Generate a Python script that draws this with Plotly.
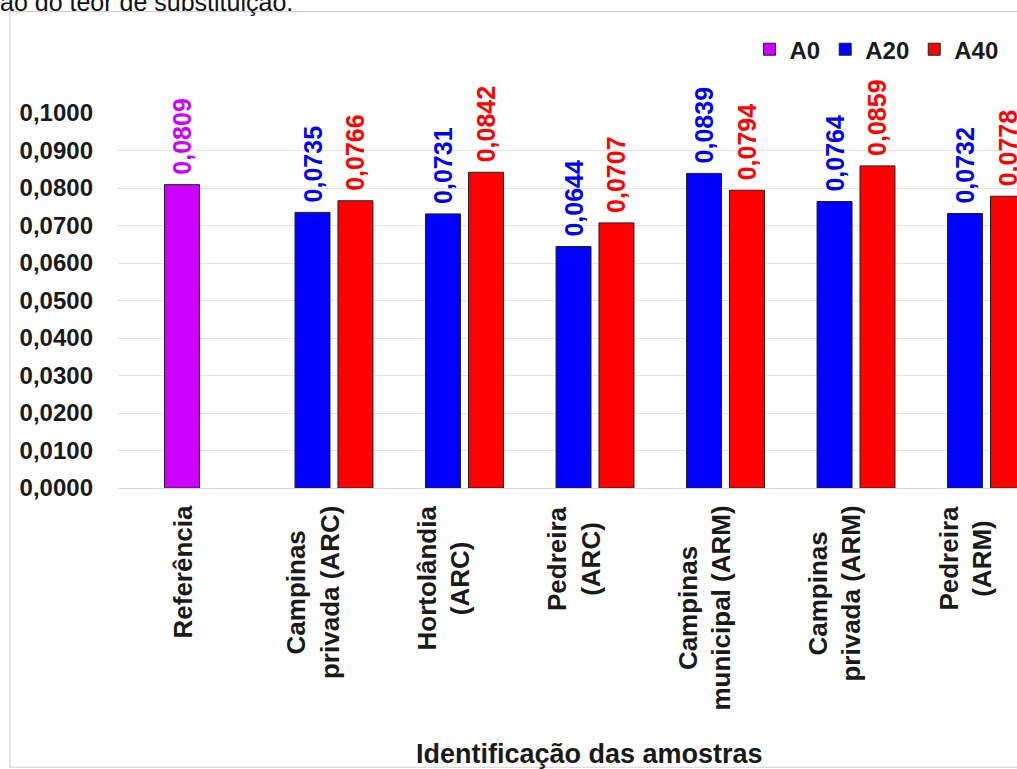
import plotly.graph_objects as go

# Sample identification (categories) and measured values per substitution level
categorias = [
    "Referência",
    "Campinas<br>privada (ARC)",
    "Hortolândia<br>(ARC)",
    "Pedreira<br>(ARC)",
    "Campinas<br>municipal (ARM)",
    "Campinas<br>privada (ARM)",
    "Pedreira<br>(ARM)",
]
a0 = [0.0809, None, None, None, None, None, None]
a20 = [None, 0.0735, 0.0731, 0.0644, 0.0839, 0.0764, 0.0732]
a40 = [None, 0.0766, 0.0842, 0.0707, 0.0794, 0.0859, 0.0778]

y_ticks = [0.0, 0.01, 0.02, 0.03, 0.04, 0.05, 0.06, 0.07, 0.08, 0.09, 0.10]
y_tick_text = ["0,0000", "0,0100", "0,0200", "0,0300", "0,0400", "0,0500",
               "0,0600", "0,0700", "0,0800", "0,0900", "0,1000"]

ROXO = "#CC00FF"
AZUL = "#0000FF"
VERMELHO = "#FF0000"
FONTE = "Liberation Sans, Arial, sans-serif"

BAR_W = 0.268
GAP = 0.061


def rotulo(v):
    if v is None:
        return ""
    return "\u00a0" + f"{v:.4f}".replace(".", ",")


def serie(nome, valores, cor, offset):
    return go.Bar(
        name=nome,
        x=categorias,
        y=valores,
        width=BAR_W,
        offset=offset,
        marker=dict(color=cor, line=dict(color="#202020", width=1)),
        text=[rotulo(v) for v in valores],
        textposition="outside",
        textangle=-90,
        constraintext="none",
        textfont=dict(family=FONTE, size=25, color=cor, weight="bold"),
        cliponaxis=False,
        hoverinfo="skip",
    )


fig = go.Figure()
fig.add_trace(serie("A0", a0, ROXO, -BAR_W / 2))
fig.add_trace(serie("A20", a20, AZUL, -BAR_W / 2))
fig.add_trace(serie("A40", a40, VERMELHO, BAR_W / 2 + GAP))

# Category labels, centred multi-line and rotated
for cat in categorias:
    fig.add_annotation(
        x=cat, xref="x", y=0, yref="y",
        text=cat, textangle=-90, align="center",
        xanchor="center", yanchor="top", yshift=-16,
        showarrow=False,
        font=dict(family=FONTE, size=26, color="#1a1a1a", weight="bold"),
    )

# Axis title
fig.add_annotation(
    x=0.5245, xref="paper", y=-0.708, yref="paper",
    text="Identificação das amostras", showarrow=False,
    xanchor="center", yanchor="middle",
    font=dict(family=FONTE, size=27, color="#1a1a1a", weight="bold"),
)

# Caption line above the chart frame
fig.add_annotation(
    x=-0.1335, xref="paper", y=1.2954, yref="paper",
    text="ão do teor de substituição.", showarrow=False,
    xanchor="left", yanchor="middle",
    font=dict(family=FONTE, size=25, color="#111111"),
)

# Chart frame
fig.add_shape(
    type="rect", xref="paper", yref="paper",
    x0=-0.1201, x1=1.05, y0=-0.7446, y1=1.2703,
    line=dict(color="#d4d4d4", width=1.2), fillcolor="rgba(0,0,0,0)",
    layer="below",
)

fig.update_layout(
    width=1017,
    height=769,
    margin=dict(l=118, r=0, t=113, b=281, autoexpand=False),
    paper_bgcolor="white",
    plot_bgcolor="white",
    barmode="overlay",
    showlegend=True,
    legend=dict(
        orientation="h",
        x=0.985, xanchor="right",
        y=1.169, yanchor="middle",
        font=dict(family=FONTE, size=24, color="#1a1a1a", weight="bold"),
        itemwidth=30,
        bgcolor="rgba(0,0,0,0)",
        traceorder="normal",
    ),
    xaxis=dict(
        type="category",
        range=[-0.4904, 6.398],
        showticklabels=False,
        showgrid=False,
        showline=False,
        ticks="",
        zeroline=False,
    ),
    yaxis=dict(
        range=[0, 0.1],
        tickvals=y_ticks,
        ticktext=y_tick_text,
        showgrid=True,
        gridcolor="#e4e4e4",
        gridwidth=1,
        zeroline=True,
        zerolinecolor="#d8d8d8",
        zerolinewidth=1,
        showline=False,
        ticks="",
        ticklabelstandoff=24,
        tickfont=dict(family=FONTE, size=24, color="#1a1a1a", weight="bold"),
    ),
)

fig.write_html("out.html")
